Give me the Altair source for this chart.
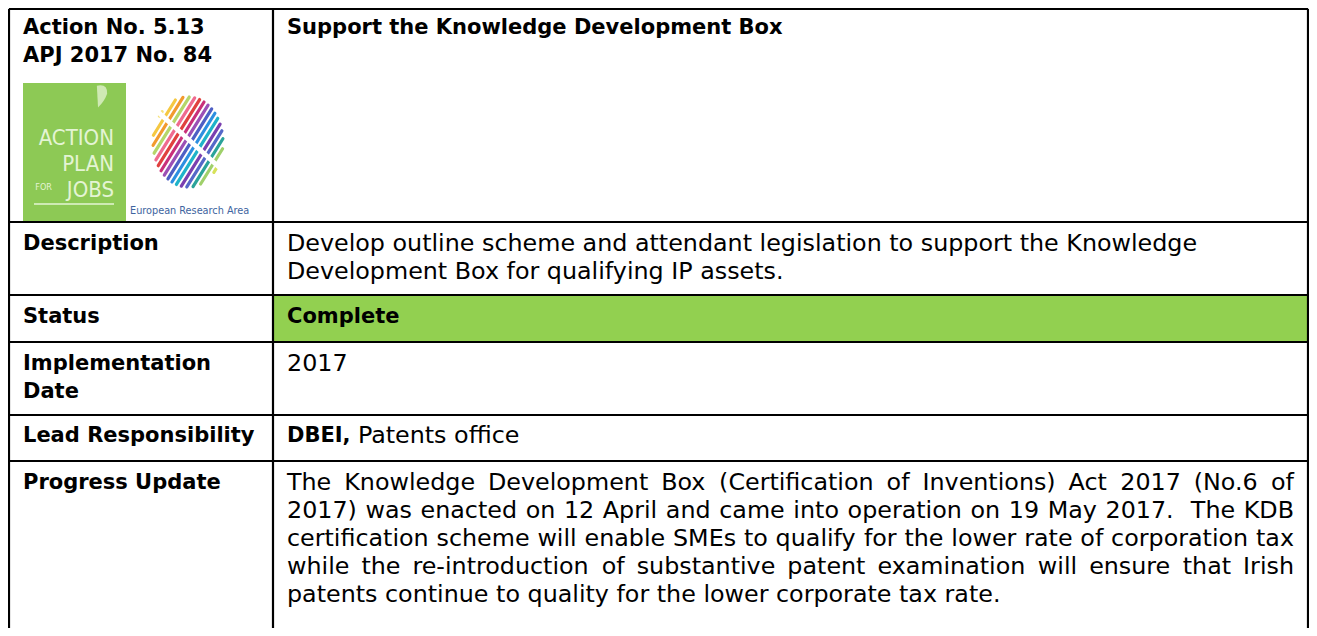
import math
import altair as alt
import pandas as pd

# ---------------- content ----------------
action_lines = ["Action No. 5.13", "APJ 2017 No. 84"]
title_text = "Support the Knowledge Development Box"
row_labels = [["Description"], ["Status"], ["Implementation", "Date"],
              ["Lead Responsibility"], ["Progress Update"]]
description_lines = [
    "Develop outline scheme and attendant legislation to support the Knowledge",
    "Development Box for qualifying IP assets.",
]
status_text = "Complete"
impl_date = "2017"
lead_bold = "DBEI,"
lead_rest = "Patents office"
progress_lines = [
    "The Knowledge Development Box (Certification of Inventions) Act 2017 (No.6 of",
    "2017) was enacted on 12 April and came into operation on 19 May 2017.  The KDB",
    "certification scheme will enable SMEs to qualify for the lower rate of corporation tax",
    "while the re-introduction of substantive patent examination will ensure that Irish",
    "patents continue to quality for the lower corporate tax rate.",
]
progress_justified = [True, True, True, True, False]
apj_words = ["ACTION", "PLAN", "FOR", "JOBS"]
era_caption = "European Research Area"
era_stripe_colors = ["#f6e27a", "#f5c842", "#f29a2e", "#b5d66a", "#ef6b8f",
                     "#e0413f", "#c9307a", "#9b4fb5", "#4e5fc4", "#2d8fe0",
                     "#1fb3c9", "#7a3fb0", "#5568c8", "#2aa39a", "#9fd06a",
                     "#d7e25a"]

# ---------------- layout (page pixels) ----------------
X_LEFT, X_DIV, X_RIGHT = 9, 273, 1308
ROW_TOPS = [9, 222, 295, 342, 415, 461]
Y_BOTTOM = 640
LINE0 = [19, 22, 22, 22, 21, 22]   # first-line offset inside each row
LINE_H = 28
TX_L, TX_R, TX_END = 23, 287, 1294

FONT = "DejaVu Sans, Verdana, sans-serif"
NARROW = "'Liberation Sans Narrow', 'DejaVu Sans Condensed', sans-serif"
FS = 23.8
FSB = 21

# approximate advance widths (em) of DejaVu Sans, used to justify lines
_W = {" ": .318, "(": .390, ")": .390, ",": .318, "-": .361, ".": .318,
      "A": .684, "B": .686, "C": .698, "D": .770, "E": .632, "F": .575, "G": .775,
      "H": .752, "I": .295, "J": .295, "K": .656, "L": .557, "M": .863, "N": .748,
      "O": .787, "P": .603, "Q": .787, "R": .695, "S": .635, "T": .611, "U": .732,
      "V": .684, "W": .989, "X": .685, "Y": .611, "Z": .685,
      "a": .613, "b": .635, "c": .550, "d": .635, "e": .615, "f": .352, "g": .635,
      "h": .634, "i": .278, "j": .278, "k": .579, "l": .278, "m": .974, "n": .634,
      "o": .612, "p": .635, "q": .635, "r": .411, "s": .521, "t": .392, "u": .634,
      "v": .592, "w": .818, "x": .592, "y": .592, "z": .525}
_WB = {"D": .830, "B": .762, "E": .683, "I": .372, ",": .380, " ": .348}


def text_w(s, fs, table=_W):
    return sum(table.get(ch, .636) for ch in s) * fs


W, H = 1301, 620
XS = alt.Scale(domain=[8, 8 + W], range=[0, W], nice=False, zero=False)
YS = alt.Scale(domain=[8, 8 + H], range=[0, H], nice=False, zero=False)


def enc(**kw):
    out = {}
    for k, v in kw.items():
        if k == "x":
            out[k] = alt.X(v, type="quantitative", scale=XS, axis=None)
        elif k == "x2":
            out[k] = alt.X2(v)
        elif k == "y":
            out[k] = alt.Y(v, type="quantitative", scale=YS, axis=None)
        elif k == "y2":
            out[k] = alt.Y2(v)
        else:
            out[k] = v
    return out


def line_y(row, i):
    return ROW_TOPS[row] + LINE0[row] + i * LINE_H


# ---------------- green status cell ----------------
status_df = pd.DataFrame([{"x": X_DIV, "x2": X_RIGHT, "y": ROW_TOPS[2], "y2": ROW_TOPS[3]}])
status_rect = alt.Chart(status_df).mark_rect(color="#92d050").encode(
    **enc(x="x", x2="x2", y="y", y2="y2"))

# ---------------- table borders ----------------
segs = []
for xv in (X_LEFT, X_DIV, X_RIGHT):
    segs.append({"x": xv, "x2": xv, "y": ROW_TOPS[0], "y2": Y_BOTTOM})
for yv in ROW_TOPS:
    segs.append({"x": X_LEFT, "x2": X_RIGHT, "y": yv, "y2": yv})
borders = alt.Chart(pd.DataFrame(segs)).mark_rule(color="black", strokeWidth=2.2).encode(
    **enc(x="x", x2="x2", y="y", y2="y2"))

# ---------------- text ----------------
bold_rows = []
for i, t in enumerate(action_lines):
    bold_rows.append({"x": TX_L, "y": line_y(0, i), "t": t})
bold_rows.append({"x": TX_R, "y": line_y(0, 0), "t": title_text})
for r, lines in enumerate(row_labels, start=1):
    for i, t in enumerate(lines):
        bold_rows.append({"x": TX_L, "y": line_y(r, i), "t": t})
bold_rows.append({"x": TX_R, "y": line_y(2, 0), "t": status_text})
bold_rows.append({"x": TX_R, "y": line_y(4, 0), "t": lead_bold})

reg_rows = []
right_rows = []
for i, t in enumerate(description_lines):
    reg_rows.append({"x": TX_R, "y": line_y(1, i), "t": t})
reg_rows.append({"x": TX_R, "y": line_y(3, 0), "t": impl_date})
reg_rows.append({"x": TX_R + text_w(lead_bold + " ", FSB, _WB), "y": line_y(4, 0), "t": lead_rest})
for i, (t, just) in enumerate(zip(progress_lines, progress_justified)):
    y = line_y(5, i)
    if not just:
        reg_rows.append({"x": TX_R, "y": y, "t": t})
        continue
    words = t.split(" ")          # a double space keeps an empty token -> wider gap
    widths = [text_w(w, FS) for w in words]
    gap = (TX_END - TX_R - sum(widths)) / (len(words) - 1)
    xpos = TX_R
    for j, (w, ww) in enumerate(zip(words, widths)):
        if w:
            if j == len(words) - 1:
                right_rows.append({"x": TX_END, "y": y, "t": w})
            else:
                reg_rows.append({"x": xpos, "y": y, "t": w})
        xpos += ww + gap

bold_text = alt.Chart(pd.DataFrame(bold_rows)).mark_text(
    align="left", baseline="middle", font=FONT, fontSize=FSB, fontWeight="bold", color="#000"
).encode(**enc(x="x", y="y"), text="t:N")
reg_text = alt.Chart(pd.DataFrame(reg_rows)).mark_text(
    align="left", baseline="middle", font=FONT, fontSize=FS, fontWeight="normal", color="#000"
).encode(**enc(x="x", y="y"), text="t:N")
right_text = alt.Chart(pd.DataFrame(right_rows)).mark_text(
    align="right", baseline="middle", font=FONT, fontSize=FS, fontWeight="normal", color="#000"
).encode(**enc(x="x", y="y"), text="t:N")

# ---------------- Action Plan for Jobs logo ----------------
apj_box = alt.Chart(pd.DataFrame([{"x": 23, "x2": 126, "y": 83, "y2": 221}])).mark_rect(
    color="#8dc955").encode(**enc(x="x", x2="x2", y="y", y2="y2"))
apj_df = pd.DataFrame([
    {"x": 114, "y": 145, "t": apj_words[0]},
    {"x": 114, "y": 171, "t": apj_words[1]},
    {"x": 114, "y": 197, "t": apj_words[3]},
])
apj_text = alt.Chart(apj_df).mark_text(
    align="right", baseline="alphabetic", font=NARROW, fontSize=22, color="#e4f4d4"
).encode(**enc(x="x", y="y"), text="t:N")
apj_for = alt.Chart(pd.DataFrame([{"x": 52, "y": 190, "t": apj_words[2]}])).mark_text(
    align="right", baseline="alphabetic", font=NARROW, fontSize=9, color="#e4f4d4"
).encode(**enc(x="x", y="y"), text="t:N")
apj_line = alt.Chart(pd.DataFrame([{"x": 34, "x2": 114, "y": 204, "y2": 204}])).mark_rule(
    color="#e4f4d4", strokeWidth=1.5).encode(**enc(x="x", x2="x2", y="y", y2="y2"))
harp = alt.Chart(pd.DataFrame([{"x": 102, "y": 96}])).mark_point(
    shape="M -0.35 1 L -0.45 -0.9 Q 0.5 -1.1 0.45 -0.2 Q 0.2 0.5 -0.35 1 Z",
    filled=True, color="#cfe9b4", size=520, opacity=1
).encode(**enc(x="x", y="y"))

# ---------------- European Research Area logo ----------------
cx, cy, rx, ry = 188, 142, 35, 45
ang = math.radians(58)
ux, uy = math.cos(ang), -math.sin(ang)
nx, ny = math.sin(ang), math.cos(ang)
n = len(era_stripe_colors)
stripes = []
for i, col in enumerate(era_stripe_colors):
    d = -38 + i * (76 / (n - 1))
    px, py = cx + d * nx, cy + d * ny
    a = (ux / rx) ** 2 + (uy / ry) ** 2
    b = 2 * (((px - cx) * ux) / rx ** 2 + ((py - cy) * uy) / ry ** 2)
    c = ((px - cx) / rx) ** 2 + ((py - cy) / ry) ** 2 - 1
    disc = b * b - 4 * a * c
    if disc <= 0:
        continue
    t1 = (-b - math.sqrt(disc)) / (2 * a)
    t2 = (-b + math.sqrt(disc)) / (2 * a)
    stripes.append({"x": px + t1 * ux, "y": py + t1 * uy,
                    "x2": px + t2 * ux, "y2": py + t2 * uy, "c": col})
era = alt.Chart(pd.DataFrame(stripes)).mark_rule(strokeWidth=3.2, strokeCap="round").encode(
    **enc(x="x", x2="x2", y="y", y2="y2"), color=alt.Color("c:N", scale=None))
era_gap = alt.Chart(pd.DataFrame([{"x": 158, "x2": 220, "y": 112, "y2": 168}])).mark_rule(
    color="white", strokeWidth=5).encode(**enc(x="x", x2="x2", y="y", y2="y2"))
era_cap = alt.Chart(pd.DataFrame([{"x": 130, "y": 214, "t": era_caption}])).mark_text(
    align="left", baseline="alphabetic", font=NARROW, fontSize=10.8, color="#3e64a0"
).encode(**enc(x="x", y="y"), text="t:N")

chart = alt.layer(
    status_rect, apj_box, apj_text, apj_for, apj_line, harp,
    era, era_gap, era_cap, borders, bold_text, reg_text, right_text
).properties(
    width=W, height=H, autosize=alt.AutoSizeParams(type="none"), padding=0
).configure_view(stroke=None).configure(background="white")

chart.save("out.html", embed_options={"renderer": "svg", "actions": False})
